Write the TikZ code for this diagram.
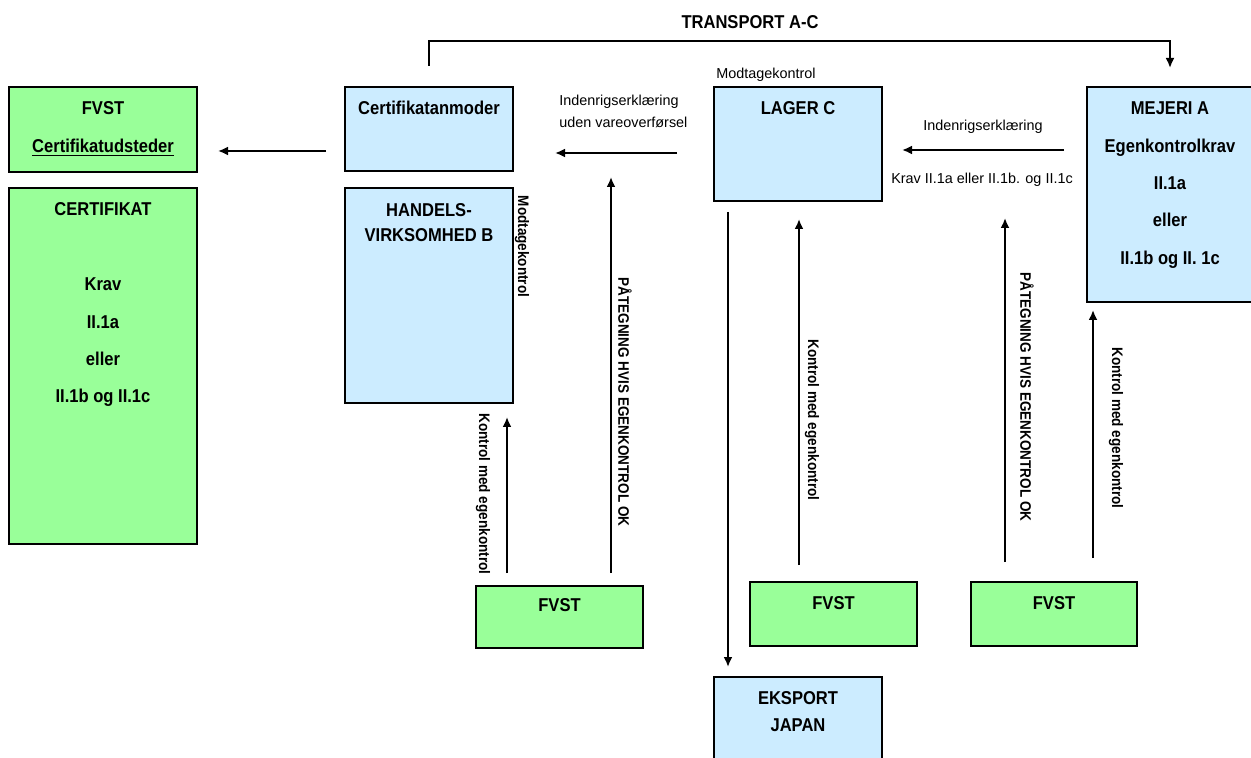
\documentclass[tikz,border=0pt]{standalone}
\usepackage{fontspec}
\usepackage{xcolor}
\setmainfont{Liberation Sans}
\newfontfamily\condfont{Liberation Sans}[FakeStretch=0.89]
\usetikzlibrary{arrows.meta}

\definecolor{lightblue}{HTML}{CCECFF}
\definecolor{lightgreen}{HTML}{99FF99}

\newcommand{\boxfont}{\condfont\bfseries\fontsize{9.3}{12.5}\selectfont}
\newcommand{\sidefont}{\condfont\bfseries\fontsize{7.6}{9}\selectfont}
\newcommand{\smallfont}{\fontsize{7.2}{11}\selectfont}

\begin{document}
\begin{tikzpicture}[x=0.5pt,y=-0.5pt,
	box/.style={draw, line width=1.4pt, inner sep=0pt, outer sep=0pt},
	bluebox/.style={box, fill=lightblue},
	greenbox/.style={box, fill=lightgreen},
	boxtext/.style={align=center, inner sep=0pt, font=\boxfont},
	flow/.style={line width=1.3pt, -{Latex[length=5pt,width=4.5pt]}},
	sidetxt/.style={rotate=-90, inner sep=0pt, font=\sidefont},
	lbl/.style={inner sep=0pt, font=\smallfont}]
	%\draw[help lines] (0,0) grid (1251,758);
	\clip (0,0) rectangle (1251,758);
	
	% FVST side
	\node[greenbox, minimum width=94pt, minimum height=42.5pt,
	label={[boxtext,below=7pt]north:FVST\\[6.5pt]\underline{Certifikatudsteder}}] (fvst) at (103,129.5) {};
	\node[greenbox, minimum width=94pt, minimum height=178pt,
	label={[boxtext,below=7pt]north:CERTIFIKAT\\[25pt]Krav\\[6.5pt]II.1a\\[6pt]eller\\[6pt]II.1b og II.1c}] (cert) at (103,366) {};
	
	% companies
	\node[bluebox, minimum width=84pt, minimum height=42pt,
	label={[boxtext,below=7pt]north:Certifikatanmoder}] (anmoder) at (429,129) {};
	\node[bluebox, minimum width=84pt, minimum height=107.5pt,
	label={[boxtext,below=7.5pt]north:HANDELS-\\VIRKSOMHED B}] (handel) at (429,295.5) {};
	\node[bluebox, minimum width=84pt, minimum height=57pt,
	label={[boxtext,below=7pt]north:LAGER C}] (lager) at (798,144) {};
	\node[bluebox, minimum width=83pt, minimum height=107.5pt,
	label={[boxtext,below=7pt]north:MEJERI A\\[6.5pt]Egenkontrolkrav\\[6pt]II.1a\\[6pt]eller\\[6.5pt]II.1b og II. 1c}] (mejeri) at (1170,194.5) {};
	\node[bluebox, minimum width=84pt, minimum height=46.5pt,
	label={[boxtext,below=7pt]north:EKSPORT\\[1pt]JAPAN}] (eksport) at (798,723.5) {};
	
	% FVST control
	\node[greenbox, minimum width=83.5pt, minimum height=31pt,
	label={[boxtext,below=6pt]north:FVST}] (fvstB) at (559.5,617) {};
	\node[greenbox, minimum width=83.5pt, minimum height=32pt,
	label={[boxtext,below=7pt]north:FVST}] (fvstC) at (833.5,614) {};
	\node[greenbox, minimum width=83pt, minimum height=32pt,
	label={[boxtext,below=7pt]north:FVST}] (fvstD) at (1054,614) {};
	
	% texts
	\node[boxtext] (transport) at (750,22) {TRANSPORT A-C};
	\node[lbl] (modtC) at (766,75) {Modtagekontrol};
	\node[lbl, align=left, anchor=west] (indA) at (559,111) {Indenrigserklæring\\uden vareoverførsel};
	\node[lbl] (indD) at (983,127) {Indenrigserklæring};
	\node[lbl] (kravD) at (982,180) {Krav II.1a eller II.1b. og II.1c};
	\node[sidetxt] (modtB) at (522,246.5) {Modtagekontrol};
	\node[sidetxt] (kontrolB) at (483,494) {Kontrol med egenkontrol};
	\node[sidetxt] (paategB) at (625,402) {PÅTEGNING HVIS EGENKONTROL OK};
	\node[sidetxt] (kontrolC) at (812,420) {Kontrol med egenkontrol};
	\node[sidetxt] (paategD) at (1027,397) {PÅTEGNING HVIS EGENKONTROL OK};
	\node[sidetxt] (kontrolD) at (1116,428) {Kontrol med egenkontrol};
	
	% arrows
	\draw[flow] ([shift={(0,-21)}]anmoder.north) |- (800,41) -| ([shift={(0,-19)}]mejeri.north);
	\draw[flow] ([shift={(-19,22)}]anmoder.west) -- ([shift={(21,21.5)}]fvst.east);
	\draw[flow] ([shift={(-37,9)}]lager.west) -- ([shift={(42,24)}]anmoder.east);
	\draw[flow] ([shift={(-23,-44.5)}]mejeri.west) -- ([shift={(20,6)}]lager.east);
	\draw[flow] ([shift={(14,11)}]lager.south west) -- ([shift={(14,-10)}]eksport.north west);
	\draw[flow] ([shift={(-52.5,-13)}]fvstB.north) -- ([shift={(78,14)}]handel.south);
	\draw[flow] ([shift={(51.5,-13)}]fvstB.north) -- ([shift={(98,6)}]anmoder.south east);
	\draw[flow] ([shift={(-34.5,-17)}]fvstC.north) -- ([shift={(1,18)}]lager.south);
	\draw[flow] ([shift={(-49,-20)}]fvstD.north) -- ([shift={(123,17)}]lager.south east);
	\draw[flow] ([shift={(39,-24)}]fvstD.north) -- ([shift={(6,8)}]mejeri.south west);
\end{tikzpicture}
\end{document}
